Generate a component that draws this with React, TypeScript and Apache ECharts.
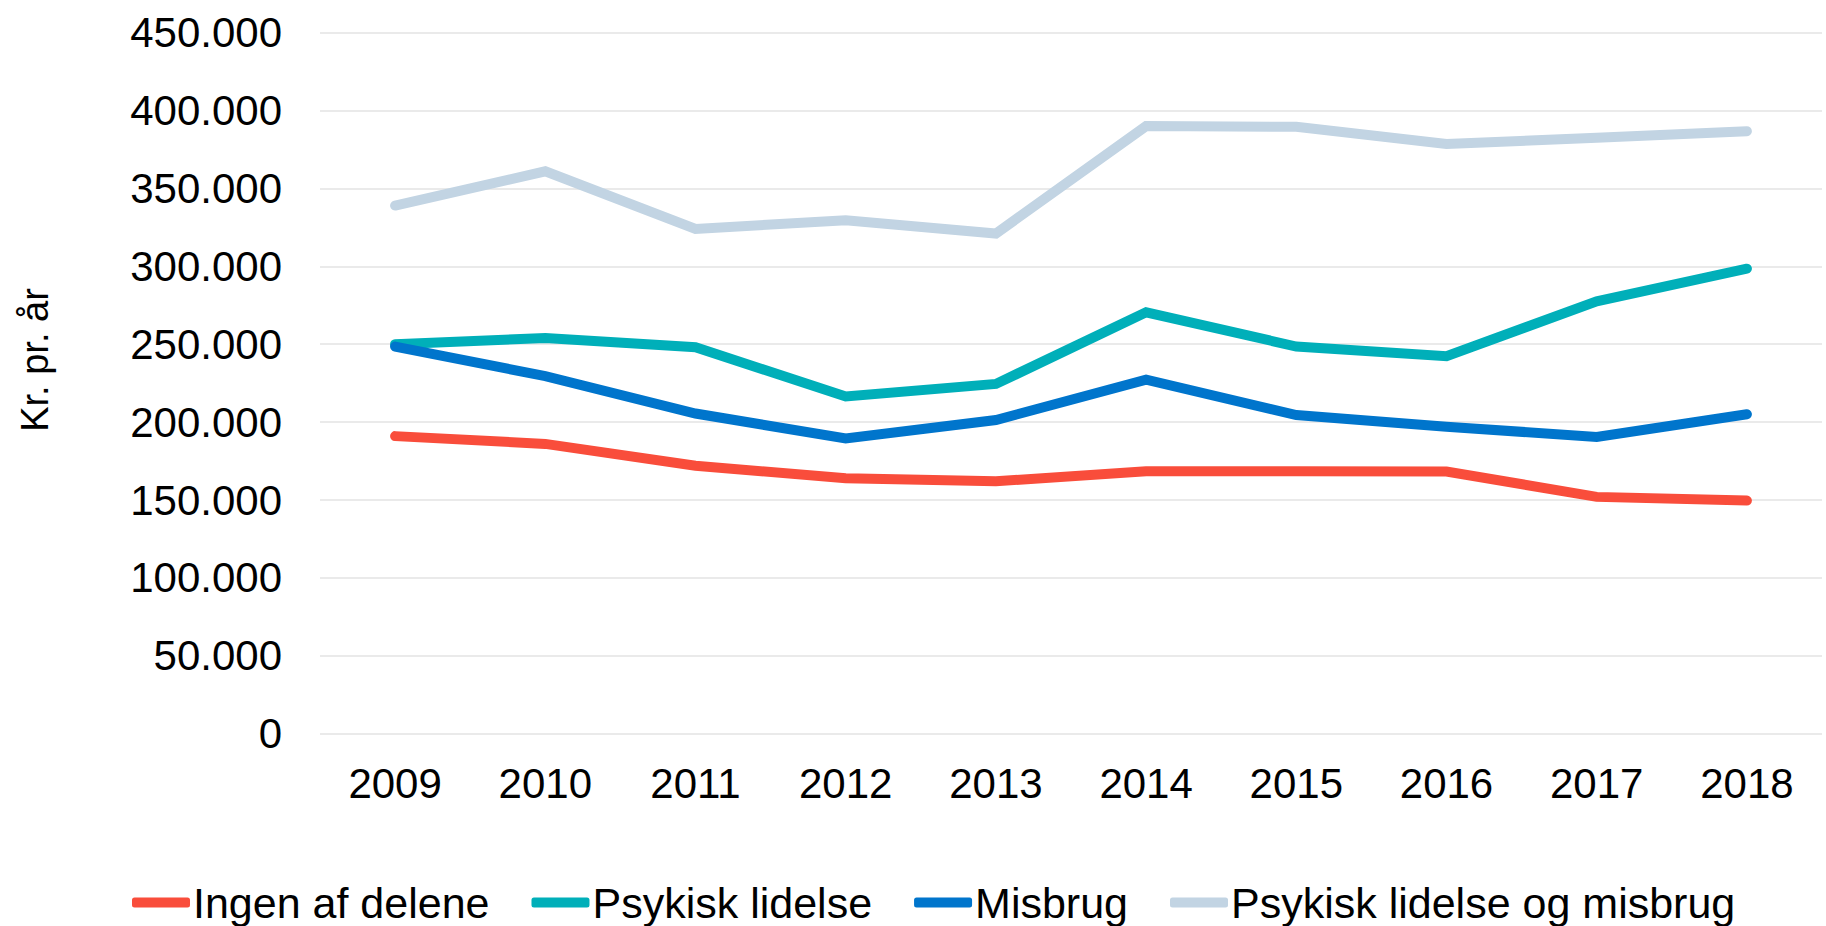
import React, { useEffect, useRef } from "react";
import * as echarts from "echarts";

const years = ["2009", "2010", "2011", "2012", "2013", "2014", "2015", "2016", "2017", "2018"];
const ingenAfDelene = [191000, 186000, 172000, 164000, 162000, 168500, 168500, 168300, 152000, 149600];
const psykiskLidelse = [250000, 254000, 248000, 216500, 224500, 270500, 248500, 242300, 277500, 298500];
const misbrug = [248500, 229500, 205500, 189500, 201300, 227300, 204500, 197000, 190500, 205000];
const psykiskOgMisbrug = [339000, 361000, 324000, 329500, 321000, 390000, 389500, 378500, 382500, 386700];

const seriesNames = ["Ingen af delene", "Psykisk lidelse", "Misbrug", "Psykisk lidelse og misbrug"];
const seriesColors = ["#F94D3B", "#00AFB9", "#0075CC", "#C2D4E3"];
const yTicks = { min: 0, max: 450000, interval: 50000 };
const yAxisTitle = "Kr. pr. år";

const FONT = "Arial, 'Liberation Sans', sans-serif";

export default function App() {
  const ref = useRef<HTMLDivElement>(null);
  useEffect(() => {
    if (!ref.current) return;
    const chart = echarts.init(ref.current, undefined, { renderer: "svg" });
    const dataSets = [ingenAfDelene, psykiskLidelse, misbrug, psykiskOgMisbrug];
    chart.setOption({
      animation: false,
      backgroundColor: "#ffffff",
      grid: { left: 320, right: 4, top: 32.6, bottom: 192.3, containLabel: false },
      legend: {
        bottom: -3,
        left: 127,
        icon: "roundRect",
        itemWidth: 58,
        itemHeight: 10,
        itemGap: 42,
        textStyle: { fontSize: 43, color: "#000", fontFamily: FONT, padding: [0, 0, 0, -2] },
        data: seriesNames,
      },
      graphic: [
        {
          type: "text",
          x: 35,
          y: 360,
          rotation: Math.PI / 2,
          style: {
            text: yAxisTitle,
            fontSize: 38,
            fill: "#000",
            fontFamily: FONT,
            align: "center",
            verticalAlign: "middle",
          },
        },
      ],
      xAxis: {
        type: "category",
        data: years,
        boundaryGap: true,
        axisLine: { show: false },
        axisTick: { show: false },
        axisLabel: { fontSize: 42, color: "#000", fontFamily: FONT, margin: 29 },
      },
      yAxis: {
        type: "value",
        min: yTicks.min,
        max: yTicks.max,
        interval: yTicks.interval,
        axisLine: { show: false },
        axisTick: { show: false },
        splitLine: { lineStyle: { color: "#E3E3E3", width: 1.5 } },
        axisLabel: {
          fontSize: 42,
          color: "#000",
          fontFamily: FONT,
          margin: 38,
          formatter: (v: number) => v.toString().replace(/\B(?=(\d{3})+(?!\d))/g, "."),
        },
      },
      series: dataSets.map((d, i) => ({
        name: seriesNames[i],
        type: "line",
        data: d,
        symbol: "none",
        color: seriesColors[i],
        lineStyle: { width: 10, color: seriesColors[i], cap: "round", join: "miter" },
      })),
    });
    return () => chart.dispose();
  }, []);
  return (
    <div
      ref={ref}
      style={{ position: "fixed", left: 0, top: 0, width: 1826, height: 926 }}
    />
  );
}
